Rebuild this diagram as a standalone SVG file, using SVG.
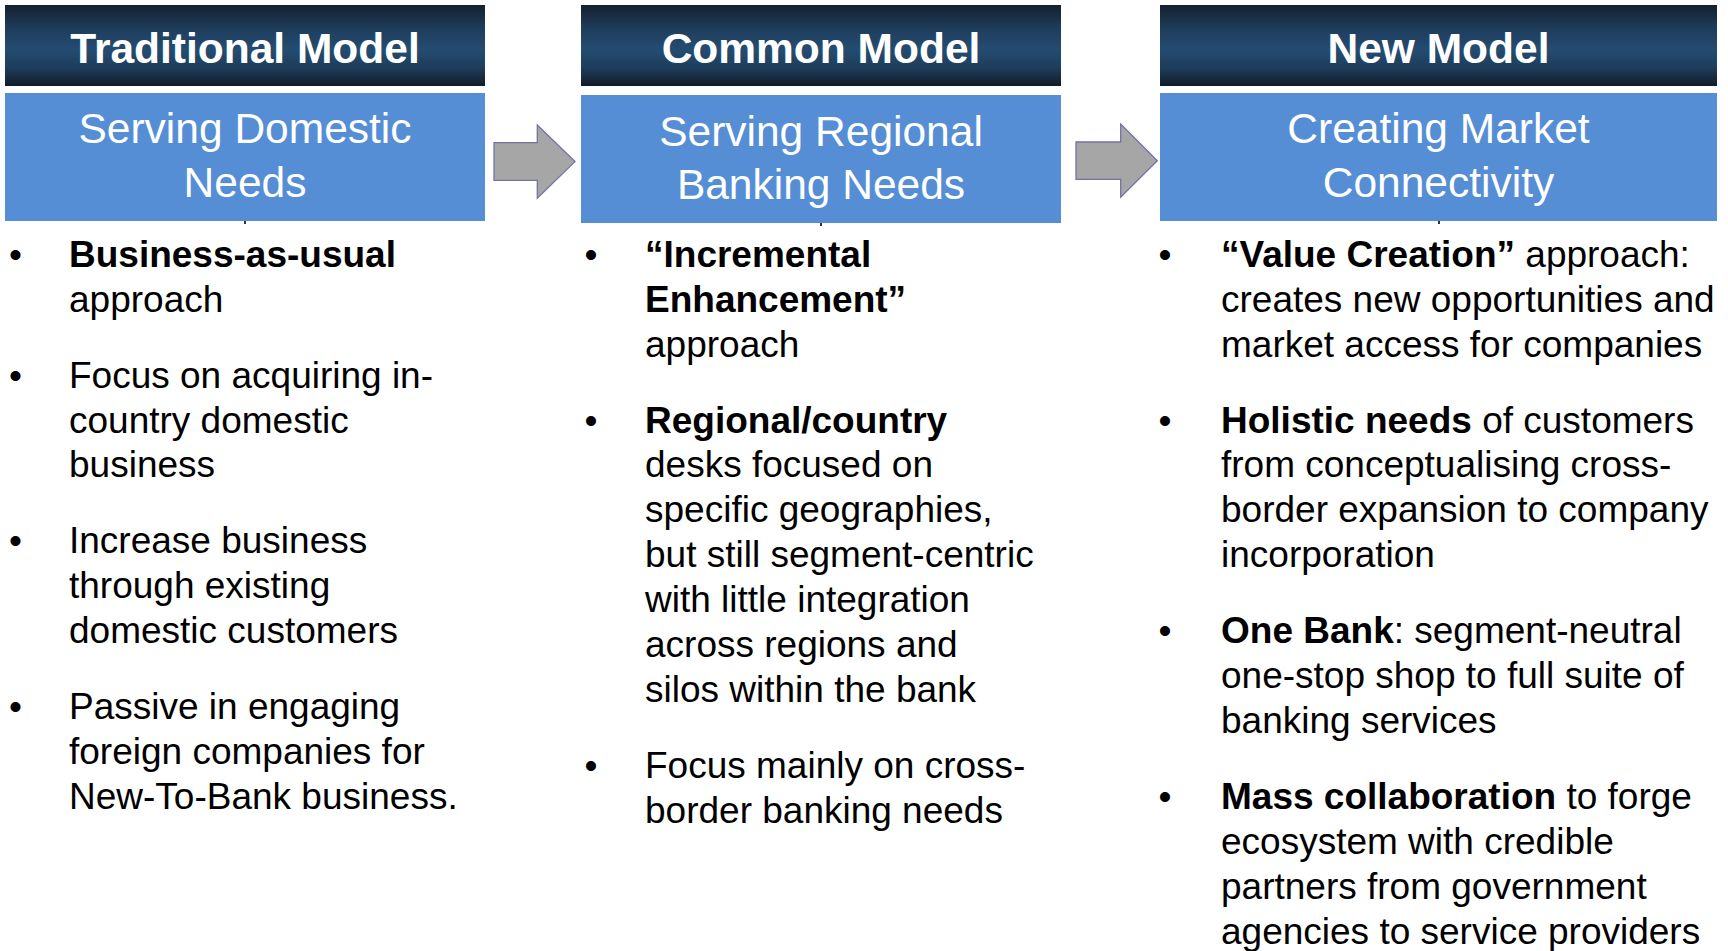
<svg xmlns="http://www.w3.org/2000/svg" width="1728" height="951" viewBox="0 0 1728 951">
<defs>
<linearGradient id="hdr" x1="0" y1="0" x2="0" y2="1">
<stop offset="0" stop-color="#14212F"/>
<stop offset="0.3" stop-color="#1F3E5D"/>
<stop offset="0.55" stop-color="#244C71"/>
<stop offset="0.78" stop-color="#1E3D5B"/>
<stop offset="1" stop-color="#111B27"/>
</linearGradient>
<style>
.hdr{fill:url(#hdr);}
.sub{fill:#558ED5;}
.ht{font-family:"Liberation Sans",Arial,sans-serif;font-weight:bold;font-size:42.5px;fill:#FFFFFF;text-anchor:middle;}
.st{font-family:"Liberation Sans",Arial,sans-serif;font-size:42.5px;fill:#FFFFFF;text-anchor:middle;}
.bt{font-family:"Liberation Sans",Arial,sans-serif;font-size:37px;fill:#000000;}
.bl{font-family:"Liberation Sans",Arial,sans-serif;font-size:37px;fill:#000000;text-anchor:middle;}
.b{font-weight:bold;}
.arr{fill:#A6A6A6;stroke:#7272A6;stroke-width:1.3;}
.tick{fill:#333333;}
</style>
</defs>
<rect width="1728" height="951" fill="#FFFFFF"/>

<g id="traditional-model">
<rect class="hdr" x="5" y="5" width="480" height="81"/>
<text class="ht" x="245" y="62.7">Traditional Model</text>
<rect class="sub" x="5" y="93" width="480" height="128"/>
<text class="st" x="245" y="142.7">Serving Domestic</text>
<text class="st" x="245" y="196.7">Needs</text>
<rect class="tick" x="244" y="221" width="2" height="3"/>
<text class="bl" x="15.5" y="266.8">•</text>
<text class="bt" x="69" y="266.8"><tspan class="b">Business-as-usual</tspan></text>
<text class="bt" x="69" y="311.7">approach</text>
<text class="bl" x="15.5" y="387.6">•</text>
<text class="bt" x="69" y="387.6">Focus on acquiring in-</text>
<text class="bt" x="69" y="432.5">country domestic</text>
<text class="bt" x="69" y="477.4">business</text>
<text class="bl" x="15.5" y="553.3">•</text>
<text class="bt" x="69" y="553.3">Increase business</text>
<text class="bt" x="69" y="598.2">through existing</text>
<text class="bt" x="69" y="643.1">domestic customers</text>
<text class="bl" x="15.5" y="719">•</text>
<text class="bt" x="69" y="719">Passive in engaging</text>
<text class="bt" x="69" y="763.9">foreign companies for</text>
<text class="bt" x="69" y="808.8">New-To-Bank business.</text>
</g>

<g id="common-model">
<rect class="hdr" x="581" y="5" width="480" height="81"/>
<text class="ht" x="821" y="62.7">Common Model</text>
<rect class="sub" x="581" y="95" width="480" height="128"/>
<text class="st" x="821" y="145.5">Serving Regional</text>
<text class="st" x="821" y="198.5">Banking Needs</text>
<rect class="tick" x="820" y="223" width="2" height="3"/>
<text class="bl" x="591" y="266.8">•</text>
<text class="bt" x="645" y="266.8"><tspan class="b">“Incremental</tspan></text>
<text class="bt" x="645" y="311.7"><tspan class="b">Enhancement”</tspan></text>
<text class="bt" x="645" y="356.6">approach</text>
<text class="bl" x="591" y="432.5">•</text>
<text class="bt" x="645" y="432.5"><tspan class="b">Regional/country</tspan></text>
<text class="bt" x="645" y="477.4">desks focused on</text>
<text class="bt" x="645" y="522.3">specific geographies,</text>
<text class="bt" x="645" y="567.2">but still segment-centric</text>
<text class="bt" x="645" y="612.1">with little integration</text>
<text class="bt" x="645" y="657">across regions and</text>
<text class="bt" x="645" y="701.9">silos within the bank</text>
<text class="bl" x="591" y="777.8">•</text>
<text class="bt" x="645" y="777.8">Focus mainly on cross-</text>
<text class="bt" x="645" y="822.7">border banking needs</text>
</g>

<g id="new-model">
<rect class="hdr" x="1160" y="5" width="557" height="81"/>
<text class="ht" x="1438.5" y="62.7">New Model</text>
<rect class="sub" x="1160" y="93" width="557" height="128"/>
<text class="st" x="1438.5" y="142.7">Creating Market</text>
<text class="st" x="1438.5" y="196.7">Connectivity</text>
<rect class="tick" x="1438" y="221" width="2" height="3"/>
<text class="bl" x="1165" y="266.8">•</text>
<text class="bt" x="1221" y="266.8"><tspan class="b">“Value Creation”</tspan> approach:</text>
<text class="bt" x="1221" y="311.7">creates new opportunities and</text>
<text class="bt" x="1221" y="356.6">market access for companies</text>
<text class="bl" x="1165" y="432.5">•</text>
<text class="bt" x="1221" y="432.5"><tspan class="b">Holistic needs</tspan> of customers</text>
<text class="bt" x="1221" y="477.4">from conceptualising cross-</text>
<text class="bt" x="1221" y="522.3">border expansion to company</text>
<text class="bt" x="1221" y="567.2">incorporation</text>
<text class="bl" x="1165" y="643.1">•</text>
<text class="bt" x="1221" y="643.1"><tspan class="b">One Bank</tspan>: segment-neutral</text>
<text class="bt" x="1221" y="688">one-stop shop to full suite of</text>
<text class="bt" x="1221" y="732.9">banking services</text>
<text class="bl" x="1165" y="808.8">•</text>
<text class="bt" x="1221" y="808.8"><tspan class="b">Mass collaboration</tspan> to forge</text>
<text class="bt" x="1221" y="853.7">ecosystem with credible</text>
<text class="bt" x="1221" y="898.6">partners from government</text>
<text class="bt" x="1221" y="943.5">agencies to service providers</text>
</g>

<g id="connectors">
<path class="arr" d="M494,142.7 L537.3,142.7 L537.3,125 L575,161.6 L537.3,198.3 L537.3,180.3 L494,180.3 Z"/>
<path class="arr" d="M1076,142 L1120.7,142 L1120.7,124 L1157.3,160.7 L1120.7,197.3 L1120.7,179.3 L1076,179.3 Z"/>
</g>
</svg>
